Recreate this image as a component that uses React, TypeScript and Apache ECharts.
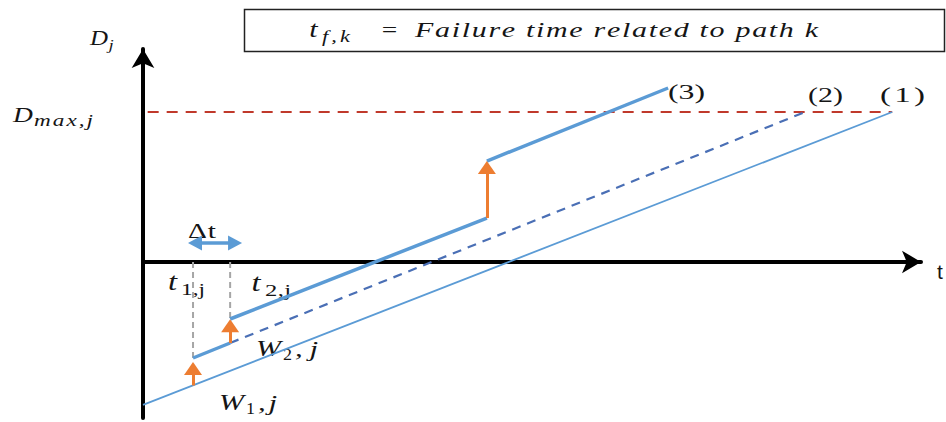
import React, { useEffect, useRef } from "react";
import * as echarts from "echarts";

// Schematic data (x: time units, y: degradation units)
const dMax = 10;
const dMaxLine = [[0.6, dMax], [96.3, dMax]];
const path1 = [[0, -9.53], [96.3, 10]];
const path2Solid = [[6.43, -6.4], [11.2, -5.4]];
const path2Dashed = [[11.2, -5.4], [85.1, 10]];
const path3Before = [[11.2, -3.8], [44.2, 2.93]];
const path3After = [[44.2, 6.73], [67.5, 11.6]];
const guideT1 = [[6.43, 0], [6.43, -6.4]];
const guideT2 = [[11.2, 0], [11.2, -3.8]];
// orange jump arrows: [x, from, to]
const jumps = [
  [6.43, -8.23, -7.1],
  [11.2, -5.4, -4.25],
  [44.2, 2.93, 6.3],
];
const deltaT = [[6.68, 1.27], [11.83, 1.27]];
const pathLabels = ["(3)", "(2)", "(1)"];
const titleText = "Failure time related to path k";

const BLUE = "#5B9BD5";
const DARKBLUE = "#4A6FB5";
const ORANGE = "#ED7D31";
const RED = "#C0392B";
const SERIF = "Liberation Serif";
const INK = "#151515";

type Seg = { s: string; x0: number; x1: number; base: number; size: number; it?: boolean; cap?: number };

let ctx: CanvasRenderingContext2D | null = null;
function measure(s: string, size: number, it?: boolean) {
  if (!ctx) ctx = document.createElement("canvas").getContext("2d");
  ctx!.font = `${it ? "italic " : ""}${size}px "${SERIF}"`;
  return ctx!.measureText(s).width;
}

function segEls(seg: Seg): any[] {
  const chars = Array.from(seg.s);
  const widths = chars.map((c) => measure(c, seg.size, seg.it));
  const nat = widths.reduce((a, b) => a + b, 0);
  const target = seg.x1 - seg.x0;
  const cap = seg.cap ?? 1.25;
  const sx = Math.max(0.85, Math.min(cap, target / nat));
  const extra = chars.length > 1 ? (target - nat * sx) / (chars.length - 1) : 0;
  let x = chars.length === 1 ? seg.x0 + Math.max(0, (target - nat * sx) / 2) : seg.x0;
  const out: any[] = [];
  chars.forEach((c, i) => {
    if (c !== " ") {
      out.push({
        type: "text",
        x,
        y: seg.base - 0.34 * seg.size,
        scaleX: sx,
        silent: true,
        style: {
          text: c,
          fontFamily: SERIF,
          fontStyle: seg.it ? "italic" : "normal",
          fontSize: seg.size,
          fill: INK,
          verticalAlign: "middle",
          textAlign: "left",
        },
      });
    }
    x += widths[i] * sx + extra;
  });
  return out;
}

const labelSegs: Seg[] = [
  // title box text
  { s: "t", x0: 307, x1: 320, base: 37, size: 24, it: true },
  { s: "f,k", x0: 322, x1: 350, base: 42, size: 16, it: true, cap: 1.4 },
  { s: "=", x0: 379, x1: 400, base: 37, size: 22 },
  { s: titleText, x0: 415, x1: 818, base: 37, size: 22, it: true, cap: 1.36 },
  // axis labels
  { s: "D", x0: 90, x1: 108, base: 45, size: 22, it: true },
  { s: "j", x0: 108, x1: 114, base: 50, size: 15, it: true },
  { s: "D", x0: 13, x1: 33, base: 122, size: 22, it: true },
  { s: "max,j", x0: 34, x1: 93, base: 126, size: 16, it: true, cap: 1.45 },
  // time points
  { s: "t", x0: 167, x1: 178, base: 290, size: 26, it: true },
  { s: "1,j", x0: 181, x1: 205, base: 295, size: 17, cap: 1.45 },
  { s: "t", x0: 250, x1: 262, base: 291, size: 26, it: true },
  { s: "2,j", x0: 265, x1: 291, base: 296, size: 17, cap: 1.45 },
  // jump sizes
  { s: "W", x0: 255, x1: 282, base: 356, size: 24, it: true },
  { s: "2", x0: 283, x1: 292, base: 360, size: 17 },
  { s: ",j", x0: 295, x1: 318, base: 356, size: 22, it: true, cap: 1.4 },
  { s: "W", x0: 218, x1: 245, base: 410, size: 24, it: true },
  { s: "1", x0: 246, x1: 255, base: 414, size: 17 },
  { s: ",j", x0: 258, x1: 277, base: 410, size: 22, it: true, cap: 1.4 },
  // misc
  { s: "Δt", x0: 188, x1: 216, base: 238, size: 21, cap: 1.4 },
  { s: pathLabels[0], x0: 668, x1: 705, base: 99, size: 22, cap: 1.5 },
  { s: pathLabels[1], x0: 808, x1: 843, base: 102, size: 22, cap: 1.5 },
  { s: pathLabels[2], x0: 880, x1: 925, base: 102, size: 22, cap: 1.5 },
];

export default function App() {
  const ref = useRef<HTMLDivElement>(null);
  useEffect(() => {
    if (!ref.current) return;
    const chart = echarts.init(ref.current, undefined, { renderer: "svg" });
    const lineSeries = (data: number[][], color: string, width: number, type: any = "solid") => ({
      type: "line",
      data,
      symbol: "none",
      silent: true,
      lineStyle: { color, width, type },
      z: 3,
    });
    const texts = labelSegs.flatMap(segEls);
    chart.setOption({
      animation: false,
      backgroundColor: "#fff",
      grid: { left: 143, right: 25, top: 49, bottom: 4, outerBoundsMode: "none" },
      xAxis: {
        type: "value",
        min: 0,
        max: 100,
        axisLine: { show: true, onZero: true, lineStyle: { color: "#000", width: 4 }, symbol: ["none", "arrow"], symbolSize: [17, 19] },
        axisTick: { show: false },
        axisLabel: { show: false },
        splitLine: { show: false },
      },
      yAxis: {
        type: "value",
        min: -10.4,
        max: 14.2,
        axisLine: { show: true, onZero: false, lineStyle: { color: "#000", width: 4 }, symbol: ["none", "arrow"], symbolSize: [17, 19] },
        axisTick: { show: false },
        axisLabel: { show: false },
        splitLine: { show: false },
      },
      series: [
        lineSeries(dMaxLine, RED, 2, [11, 8]),
        lineSeries(guideT1, "#A6A6A6", 2, [6, 4]),
        lineSeries(guideT2, "#A6A6A6", 2, [6, 4]),
        lineSeries(path1, BLUE, 1.8),
        lineSeries(path2Dashed, DARKBLUE, 2.2, [9, 7]),
        lineSeries(path2Solid, BLUE, 3.5),
        lineSeries(path3Before, BLUE, 3.5),
        lineSeries(path3After, BLUE, 3.5),
        {
          type: "line",
          data: [],
          markLine: {
            silent: true,
            symbol: ["none", "triangle"],
            symbolSize: [18, 13],
            label: { show: false },
            lineStyle: { color: ORANGE, width: 3, type: "solid" },
            data: jumps.map(([x, a, b]) => [{ coord: [x, a] }, { coord: [x, b] }]),
          },
        },
        {
          type: "line",
          data: [],
          markLine: {
            silent: true,
            symbol: ["triangle", "triangle"],
            symbolSize: [15, 14],
            label: { show: false },
            lineStyle: { color: BLUE, width: 3.5, type: "solid" },
            data: [[{ coord: deltaT[0] }, { coord: deltaT[1] }]],
          },
        },
      ],
      graphic: [
        { type: "rect", silent: true, shape: { x: 244.5, y: 9.5, width: 700, height: 42 }, style: { fill: "#fff", stroke: "#222", lineWidth: 1.5 } },
        ...texts,
        { type: "text", x: 937, y: 261, silent: true, style: { text: "t", fontFamily: "Liberation Sans", fontSize: 21, fill: INK } },
      ],
    });
    return () => chart.dispose();
  }, []);
  return <div ref={ref} style={{ position: "fixed", left: 0, top: 0, width: 946, height: 422 }} />;
}
